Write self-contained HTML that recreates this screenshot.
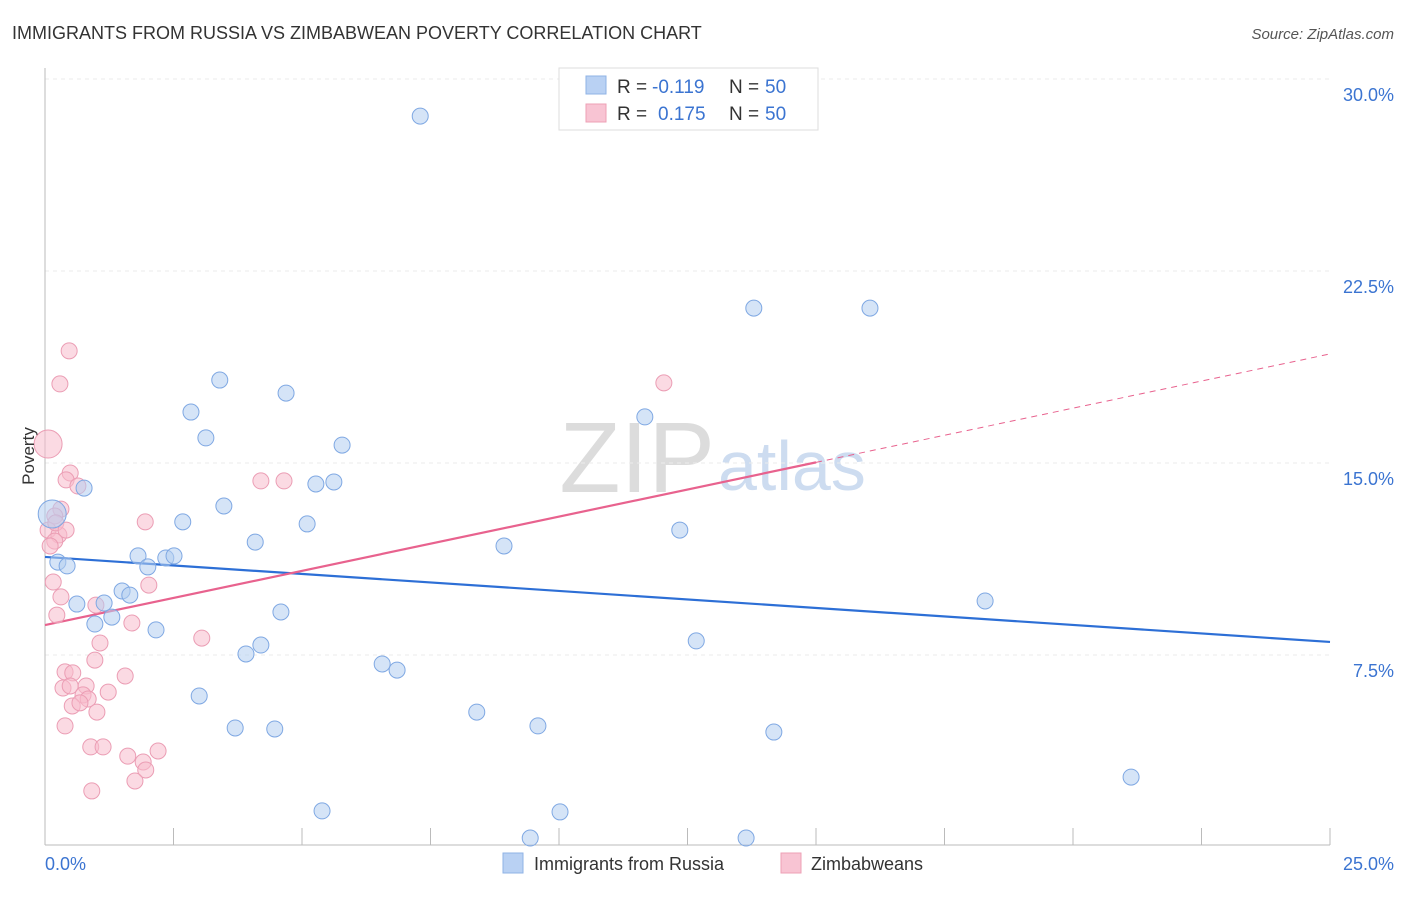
<!DOCTYPE html>
<html><head><meta charset="utf-8"><style>
body{margin:0;background:#fff;font-family:"Liberation Sans",sans-serif;}
svg text{font-family:"Liberation Sans",sans-serif;}
</style></head><body>
<svg id="chart" width="1406" height="892" xmlns="http://www.w3.org/2000/svg">
<text x="12" y="39" font-size="18" fill="#333">IMMIGRANTS FROM RUSSIA VS ZIMBABWEAN POVERTY CORRELATION CHART</text>
<text x="1394" y="39" font-size="15" fill="#555" text-anchor="end" font-style="italic">Source: ZipAtlas.com</text>
<text x="715" y="492" font-size="100" fill="#dcdcdc" text-anchor="end" font-family="Liberation Serif">ZIP</text>
<text x="718" y="490" font-size="70" fill="#cddcf0">atlas</text>
<g id="grid"></g>
<g id="axes"></g>
<g id="trend"></g>
<g id="points"></g>
<text transform="translate(34,456) rotate(-90)" font-size="17" fill="#333" text-anchor="middle">Poverty</text>
<text x="45" y="870" font-size="18" fill="#3b74d1">0.0%</text>
<text x="1394" y="870" font-size="18" fill="#3b74d1" text-anchor="end">25.0%</text>
<g>
<rect x="559" y="68" width="259" height="62" fill="#fff" stroke="#ddd"/>
<rect x="586" y="76" width="20" height="18" fill="#b9d1f3" stroke="#8fb3e6"/>
<rect x="586" y="104" width="20" height="18" fill="#f8c4d3" stroke="#eea0b6"/>
<text x="617" y="93" font-size="19" fill="#333">R =</text>
<text x="652" y="93" font-size="19" fill="#3b74d1">-0.119</text>
<text x="729" y="93" font-size="19" fill="#333">N =</text>
<text x="765" y="93" font-size="19" fill="#3b74d1">50</text>
<text x="617" y="120" font-size="19" fill="#333">R =</text>
<text x="658" y="120" font-size="19" fill="#3b74d1">0.175</text>
<text x="729" y="120" font-size="19" fill="#333">N =</text>
<text x="765" y="120" font-size="19" fill="#3b74d1">50</text>
</g>
<g>
<rect x="503" y="853" width="20" height="20" fill="#b9d1f3" stroke="#8fb3e6"/>
<text x="534" y="870" font-size="18" fill="#333">Immigrants from Russia</text>
<rect x="781" y="853" width="20" height="20" fill="#f8c4d3" stroke="#eea0b6"/>
<text x="811" y="870" font-size="18" fill="#333">Zimbabweans</text>
</g>
</svg>
<script>
const yTicks=[7.5,15,22.5,30];
const xTicks=[0,2.5,5,7.5,10,12.5,15,17.5,20,22.5,25];
const blueX=[7.30,13.79,16.05,3.40,4.69,2.84,11.67,3.13,5.78,0.76,5.27,5.62,3.48,2.68,5.10,12.35,8.93,4.09,1.81,2.35,2.51,0.25,0.43,2.00,1.50,1.65,1.15,0.62,18.29,1.30,0.97,2.16,4.59,12.67,4.20,3.91,6.56,6.85,3.00,8.40,9.59,3.70,4.47,14.18,21.13,5.39,10.02,9.44,13.64,0.14];
const blueY=[28.55,21.05,21.05,18.24,17.73,16.99,16.80,15.98,15.70,14.02,14.18,14.26,13.32,12.70,12.62,12.38,11.76,11.91,11.37,11.29,11.37,11.13,10.98,10.94,10.00,9.84,9.53,9.49,9.61,8.98,8.71,8.48,9.18,8.05,7.89,7.54,7.15,6.91,5.90,5.27,4.73,4.65,4.61,4.49,2.73,1.41,1.37,0.35,0.35,13.01];
const pinkX=[0.47,0.29,12.04,0.06,0.49,0.41,0.64,4.20,4.65,0.31,0.19,1.95,0.06,0.27,0.19,0.10,0.16,2.02,0.31,0.99,0.23,1.69,3.05,1.07,0.97,0.39,0.54,1.56,0.35,0.49,0.80,1.23,0.74,0.84,0.53,0.68,1.01,0.39,0.89,1.13,1.61,2.20,1.91,1.96,1.75,0.91,0.21,0.41];
const pinkY=[19.38,18.09,18.13,15.74,14.61,14.34,14.10,14.30,14.30,13.20,12.93,12.70,12.38,12.19,11.95,11.76,10.35,10.23,9.77,9.45,9.06,8.75,8.16,7.97,7.30,6.84,6.80,6.68,6.21,6.29,6.29,6.05,5.94,5.78,5.51,5.63,5.27,4.73,3.91,3.91,3.55,3.75,3.32,3.01,2.58,2.19,12.66,12.38];
const blueBig=[49];
const pinkBig=[3];
const blueTrend=[11.33,8.01];
const pinkTrend=[8.67,19.26];
const pinkSolidEnd=15;
const NS='http://www.w3.org/2000/svg';
const sx=v=>45+v/25*1285;
const sy=v=>847-v/7.5*192;
function mk(tag,attrs,parent){const e=document.createElementNS(NS,tag);for(const k in attrs)e.setAttribute(k,attrs[k]);document.getElementById(parent).appendChild(e);return e;}
yTicks.forEach(t=>{
 const l=mk('line',{x1:45,x2:1330,y1:sy(t),y2:sy(t),stroke:'#ebebeb','stroke-dasharray':'4,4'},'grid');
 
 
 const tx=mk('text',{x:1394,y:sy(t)+22,'font-size':18,fill:'#3b74d1','text-anchor':'end'},'grid');
 tx.textContent=t.toFixed(1)+'%';
 
 
});
const ax=mk('line',{x1:45,y1:68,x2:45,y2:845,stroke:'#bbb'},'axes');


const bx=mk('line',{x1:45,y1:845,x2:1330,y2:845,stroke:'#bbb'},'axes');


xTicks.forEach(t=>{
 const l=mk('line',{x1:sx(t),x2:sx(t),y1:828,y2:845,stroke:'#bbb'},'axes');
 
 
});
function pt(x,y,big,fill,stroke,name){
 const c=mk('circle',{cx:sx(x),cy:sy(y),r:big?14:8,fill:fill,'fill-opacity':0.55,stroke:stroke,'stroke-width':1},'points');
 
 
}
pinkX.forEach((x,i)=>pt(x,pinkY[i],pinkBig.includes(i),'#f7bccc','#eb9db4','zimbabweans-point'));
blueX.forEach((x,i)=>pt(x,blueY[i],blueBig.includes(i),'#b3cdf1','#7fa8e3','russia-point'));
const bl=mk('line',{x1:sx(0),y1:sy(blueTrend[0]),x2:sx(25),y2:sy(blueTrend[1]),stroke:'#2d6fd6','stroke-width':2.2},'trend');


const pAt=x=>pinkTrend[0]+(pinkTrend[1]-pinkTrend[0])*x/25;
const pl=mk('line',{x1:sx(0),y1:sy(pAt(0)),x2:sx(pinkSolidEnd),y2:sy(pAt(pinkSolidEnd)),stroke:'#e8628e','stroke-width':2.2},'trend');


const pd=mk('line',{x1:sx(pinkSolidEnd),y1:sy(pAt(pinkSolidEnd)),x2:sx(25),y2:sy(pAt(25)),stroke:'#e8628e','stroke-width':1,'stroke-dasharray':'6,5'},'trend');


</script>
</body></html>
